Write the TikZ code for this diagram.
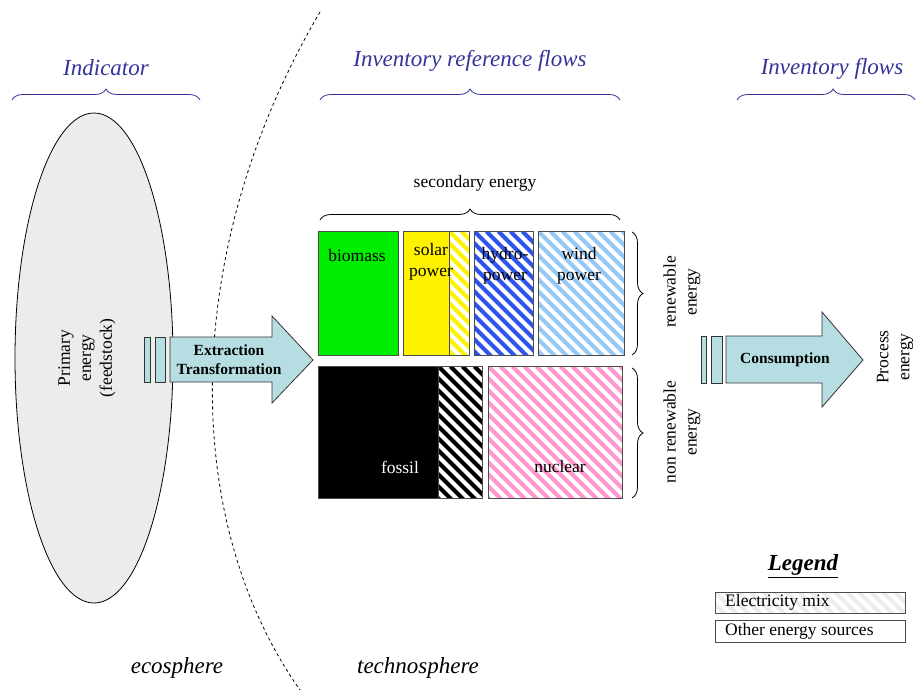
\documentclass[tikz,border=0pt]{standalone}
\usepackage{fontspec}
\setmainfont{Liberation Serif}
\usetikzlibrary{positioning,decorations.pathreplacing,shapes.geometric}
\definecolor{titleblue}{RGB}{51,51,153}
\definecolor{arrowcyan}{RGB}{182,222,226}
\definecolor{biogreen}{RGB}{0,238,0}
\definecolor{hydroblue}{RGB}{45,85,235}
\definecolor{windblue}{RGB}{150,200,245}
\definecolor{nuclpink}{RGB}{255,150,205}
\definecolor{feedgray}{RGB}{236,236,234}
\tikzset{box/.style={draw=black!70,line width=0.8pt,anchor=north west,inner sep=0pt},
  stripes/.style={fill=white,path picture={
      \foreach \k in {-16,...,17}
        \draw[#1,line width=4pt] ([xshift=\k*12pt]path picture bounding box.north west) -- ++(200pt,-200pt);}},
  lbl/.style={font=\fontsize{17.5}{21}\selectfont,align=center,inner sep=0pt},
  title/.style={font=\fontsize{23}{27}\selectfont\itshape,text=titleblue},
  topbrace/.style={decorate,decoration={brace,amplitude=11pt},draw=titleblue,line width=0.8pt},
  blackbrace/.style={decorate,decoration={brace,amplitude=11pt},draw=black,line width=0.8pt},
  flow/.style={draw=black!80,line width=0.8pt,fill=arrowcyan}}

\begin{document}
\begin{tikzpicture}[x=1pt,y=-1pt]
  \useasboundingbox (0,0) rectangle (918,690);

  % ecosphere / technosphere border
  \draw[dash pattern=on 3pt off 3pt,line width=0.8pt] (320,12) .. controls (180,250) and (180,520) .. (300,690);

  % indicator
  \draw[line width=0.8pt,fill=feedgray] (94,358) ellipse [x radius=79, y radius=245];
  \node[lbl,rotate=90] (primary) at (87,358) {Primary\\energy\\(feedstock)};
  \draw[topbrace] (12,100) -- (200,100);
  \node[title] (indicator) at (106,68) {Indicator};

  % extraction arrow
  \draw[flow] (144,337) rectangle (150,382);
  \draw[flow] (155,337) rectangle (165,382);
  \draw[flow] (170,337) -- (272,337) -- (272,316) -- (313,360) -- (272,403) -- (272,382) -- (170,382) -- cycle;
  \node[lbl,font=\fontsize{15.5}{19}\selectfont\bfseries] (extraction) at (229,360) {Extraction\\Transformation};

  % reference flows
  \draw[topbrace] (320,100) -- (620,100);
  \node[title] (refflows) at (470,61) {Inventory reference flows};
  \node[lbl] (secondary) at (475,183) {secondary energy};
  \draw[blackbrace] (320,220) -- (620,220);

  \node[box,fill=biogreen,minimum width=80pt,minimum height=124pt] (biomass) at (318,231) {};
  \node[box,fill=yellow,minimum width=66pt,minimum height=124pt] (solar) at (403,231) {};
  \node[box,stripes=yellow,minimum width=20pt,minimum height=124pt] (solarmix) at (449,231) {};
  \node[box,stripes=hydroblue,minimum width=59pt,minimum height=124pt] (hydro) at (474,231) {};
  \node[box,stripes=windblue,minimum width=86pt,minimum height=124pt] (wind) at (538,231) {};
  \node[box,fill=black,minimum width=164pt,minimum height=132pt] (fossil) at (318,366) {};
  \node[box,stripes=black,minimum width=44pt,minimum height=132pt] (fossilmix) at (438,366) {};
  \node[box,stripes=nuclpink,minimum width=134pt,minimum height=132pt] (nuclear) at (488,366) {};

  \node[lbl] (biomass-t) at (357,256) {biomass};
  \node[lbl] (solar-t) at (431,262) {solar\\power};
  \node[lbl] (hydro-t) at (505,266) {hydro-\\power};
  \node[lbl] (wind-t) at (579,266) {wind\\power};
  \node[lbl,text=white] (fossil-t) at (400,467) {fossil};
  \node[lbl] (nuclear-t) at (560,467) {nuclear};

  \draw[blackbrace] (632,232) -- (632,355);
  \draw[blackbrace] (632,368) -- (632,498);
  \node[lbl,rotate=90] (renewable) at (682,292) {renewable\\energy};
  \node[lbl,rotate=90] (nonrenewable) at (682,432) {non renewable\\energy};

  % consumption arrow
  \draw[flow] (701,336) rectangle (706,383);
  \draw[flow] (711,336) rectangle (722,383);
  \draw[flow] (726,336) -- (822,336) -- (822,312) -- (863,360) -- (822,407) -- (822,383) -- (726,383) -- cycle;
  \node[lbl,font=\fontsize{15.5}{19}\selectfont\bfseries] (consumption) at (785,360) {Consumption};
  \node[lbl,rotate=90] (process) at (895,357) {Process\\energy};

  % inventory flows
  \draw[topbrace,decoration={aspect=0.54}] (737,100) -- (915,100);
  \node[title] (invflows) at (832,69) {Inventory flows};

  % legend
  \node[lbl,font=\fontsize{23}{27}\selectfont\bfseries\itshape] (legend) at (803,566) {\underline{Legend}};
  \node[box,stripes=black!7,minimum width=190pt,minimum height=21pt] (elecmix) at (715,592) {};
  \node[box,fill=white,minimum width=190pt,minimum height=22pt] (other) at (715,620) {};
  \node[lbl,anchor=west] (elecmix-t) at (725,602.5) {Electricity mix};
  \node[lbl,anchor=west] (other-t) at (725,631) {Other energy sources};

  \node[title,text=black] (ecosphere) at (177,668) {ecosphere};
  \node[title,text=black] (technosphere) at (418,668) {technosphere};
\end{tikzpicture}
\end{document}
